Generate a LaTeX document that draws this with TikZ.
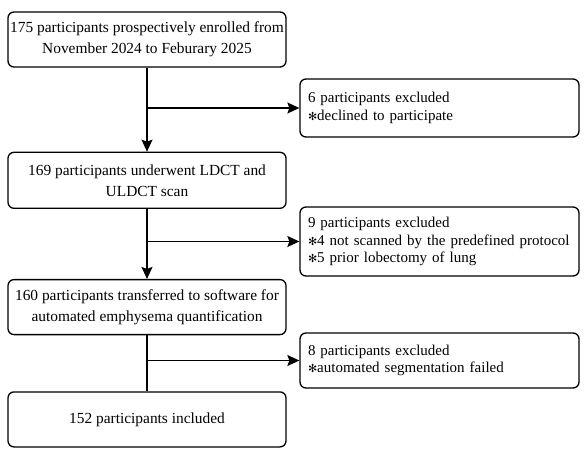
\documentclass[tikz,border=0pt]{standalone}
\usepackage{fontspec}
\setmainfont{Liberation Serif}
\newfontfamily\symfont{DejaVu Sans}
\usepackage{xcolor}
\usetikzlibrary{arrows.meta,positioning}
\definecolor{ink}{HTML}{000000}
\newcommand{\exmark}{{\symfont\fontsize{11}{11}\selectfont ✻}}
\newcommand{\exfont}{\fontsize{15}{17.5}\selectfont\hyphenpenalty=10000\relax}

\begin{document}
\begin{tikzpicture}[
  x=1pt,y=-1pt,
  font=\fontsize{15.4}{21}\selectfont,
  box/.style={draw=ink,line width=1.3pt,rounded corners=6pt,minimum width=278pt,align=center,inner sep=0pt},
  excl/.style={draw=ink,line width=1.3pt,rounded corners=6pt,minimum width=279pt,text width=263pt,align=left,inner xsep=8pt,inner ysep=0pt,font=\exfont},
  arr/.style={-{Stealth[length=12pt,width=11pt,inset=2pt]},line width=1.3pt,draw=ink},
  line/.style={line width=1.3pt,draw=ink}
]
\useasboundingbox (0,0) rectangle (584,448);
\node[box,minimum height=55pt] (enrolled) at (147,39.5) {175 participants prospectively enrolled from\\November 2024 to Feburary 2025};
\node[box,minimum height=56pt,below=84pt of enrolled] (scanned) {169 participants underwent LDCT and\\ULDCT scan};
\node[box,minimum height=55pt,below=70pt of scanned] (transferred) {160 participants transferred to software for\\automated emphysema quantification};
\node[box,minimum height=55pt,below=56pt of transferred] (included) {152 participants included};

\node[excl,minimum height=58pt] (declined) at (439.5,108) {6 participants excluded\\\exmark declined to participate};
\node[excl,minimum height=69pt] (protocol) at (439.5,241.5) {9 participants excluded\\\mbox{\exmark 4 not scanned by the predefined protocol}\\\exmark 5 prior lobectomy of lung};
\node[excl,minimum height=55pt] (segfail) at (439.5,360.5) {8 participants excluded\\\exmark automated segmentation failed};

\draw[arr] (enrolled) -- (scanned);
\draw[arr] (scanned) -- (transferred);
\draw[line] (transferred) -- (included);
\draw[arr] (enrolled.south |- declined.west) -- (declined.west);
\draw[arr] (scanned.south |- protocol.west) -- (protocol.west);
\draw[arr] (transferred.south |- segfail.west) -- (segfail.west);
\end{tikzpicture}
\end{document}
